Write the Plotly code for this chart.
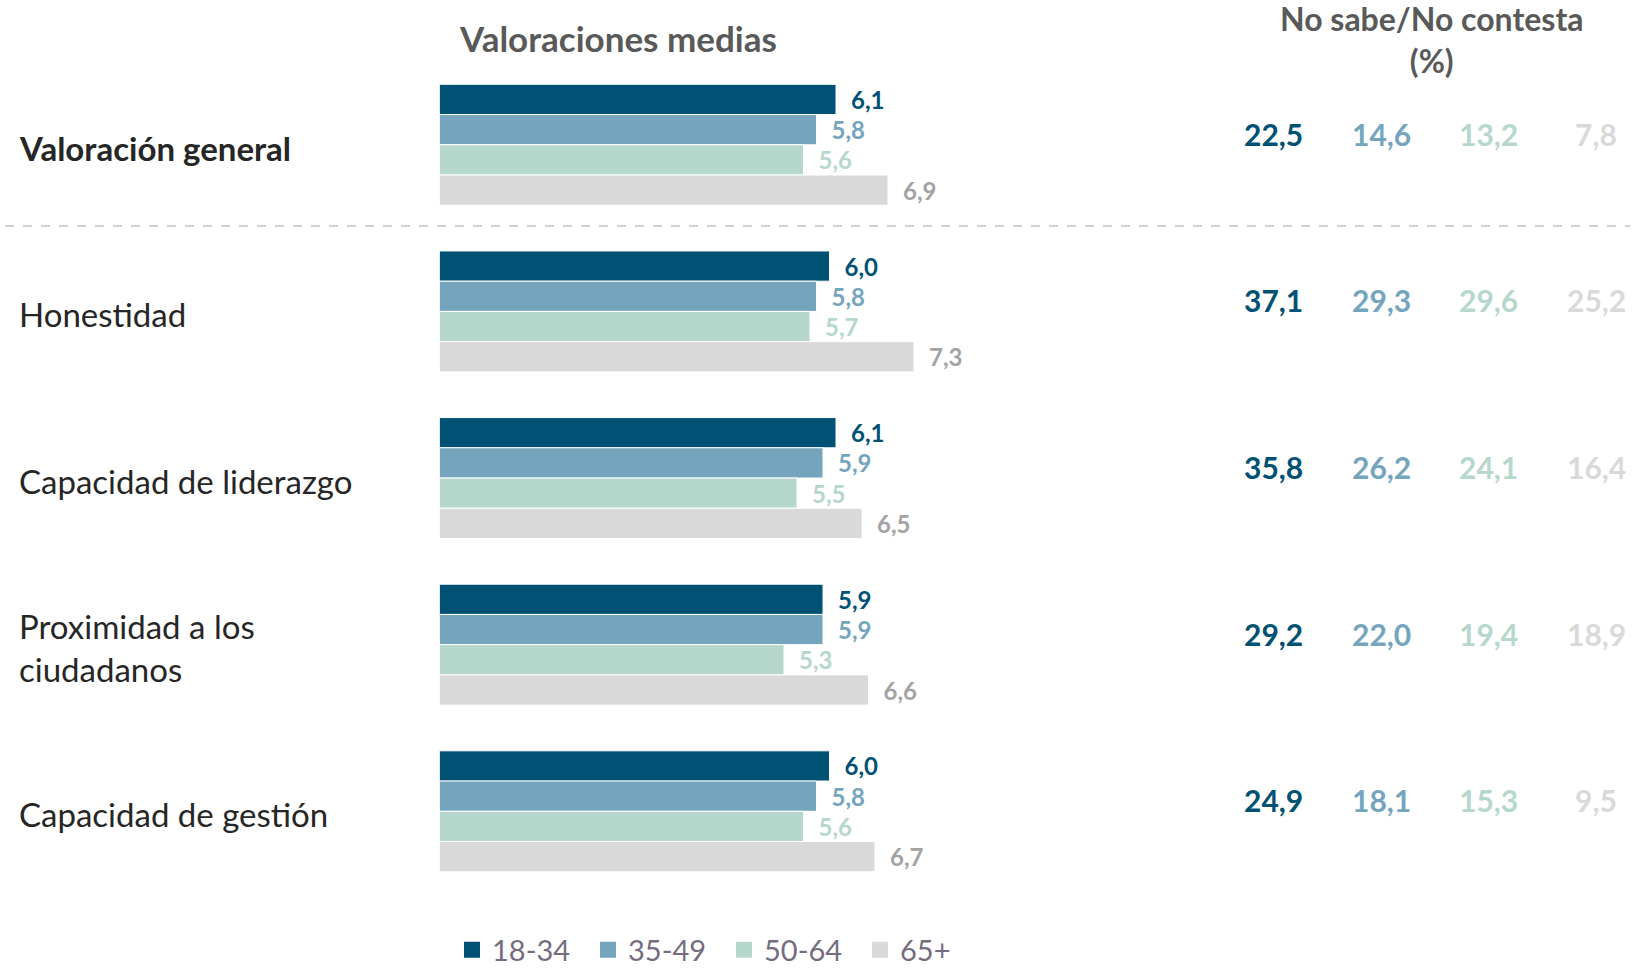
import plotly.graph_objects as go

categories = ["Valoración general", "Honestidad", "Capacidad de liderazgo",
              "Proximidad a los<br>ciudadanos", "Capacidad de gestión"]
age_groups = ["18-34", "35-49", "50-64", "65+"]
means_18_34 = [6.1, 6.0, 6.1, 5.9, 6.0]
means_35_49 = [5.8, 5.8, 5.9, 5.9, 5.8]
means_50_64 = [5.6, 5.7, 5.5, 5.3, 5.6]
means_65 = [6.9, 7.3, 6.5, 6.6, 6.7]
nsnc_18_34 = [22.5, 37.1, 35.8, 29.2, 24.9]
nsnc_35_49 = [14.6, 29.3, 26.2, 22.0, 18.1]
nsnc_50_64 = [13.2, 29.6, 24.1, 19.4, 15.3]
nsnc_65 = [7.8, 25.2, 16.4, 18.9, 9.5]

bar_colors = ["#005173", "#74A5BD", "#B6D7CC", "#D9D9D9"]
label_colors = ["#005173", "#74A5BD", "#B6D7CC", "#A3A3A3"]
nsnc_colors = ["#005173", "#74A5BD", "#B6D7CC", "#D9D9D9"]

W, H = 1633, 970
FONT = "Lato"

def px(x):
    return x / W

def py(y):
    return 1 - y / H

def fmt(v):
    return f"{v:.1f}".replace(".", ",")

fig = go.Figure()
series = [means_18_34, means_35_49, means_50_64, means_65]
for name, vals, col, lcol in zip(age_groups, series, bar_colors, label_colors):
    fig.add_trace(go.Bar(
        y=categories, x=vals, name=name, orientation="h",
        marker=dict(color=col, line=dict(color="white", width=1)),
        text=["\u2002" + fmt(v) for v in vals], textposition="outside",
        textfont=dict(color=lcol, size=24, family=FONT, weight="bold"),
        cliponaxis=False, hoverinfo="skip", showlegend=False,
    ))
# legend entries (square swatches)
for name, col in zip(age_groups, bar_colors):
    fig.add_trace(go.Scatter(
        x=[None], y=[None], mode="markers", name=name,
        marker=dict(symbol="square", size=17, color=col), hoverinfo="skip",
    ))

x0, x1 = 439.5, 1100
c_top, c_bot = 144.8, 811.3
half = (c_bot - c_top) / 4 / 2
ytop, ybot = c_top - half, c_bot + half
fig.update_layout(
    width=W, height=H, margin=dict(l=0, r=0, t=0, b=0, autoexpand=False),
    plot_bgcolor="white", paper_bgcolor="white",
    barmode="group", bargap=0.274, bargroupgap=0,
    font=dict(family=FONT),
    xaxis=dict(domain=[px(x0), px(x1)], range=[0, (x1 - x0) / 65.0],
               visible=False, fixedrange=True),
    yaxis=dict(domain=[py(ybot), py(ytop)], type="category",
               autorange="reversed", showticklabels=False, showgrid=False,
               zeroline=False, fixedrange=True),
    legend=dict(orientation="h", x=px(452), y=py(950), xanchor="left",
                yanchor="middle", font=dict(size=29, color="#766C80", family=FONT),
                itemwidth=30, entrywidth=91, entrywidthmode="pixels",
                traceorder="normal", bgcolor="rgba(0,0,0,0)"),
    showlegend=True,
)

# category labels
for i, c in enumerate(categories):
    fig.add_annotation(x=px(17), xref="paper", y=c, yref="y", text=c,
                       xanchor="left", yanchor="middle", showarrow=False, align="left",
                       yshift=-3,
                       font=dict(size=33, color="#262626", family=FONT,
                                 weight="bold" if i == 0 else "normal"))

# NS/NC values
col_x = [1273, 1381, 1488, 1596]
for xs, vals, col in zip(col_x, [nsnc_18_34, nsnc_35_49, nsnc_50_64, nsnc_65], nsnc_colors):
    for c, v in zip(categories, vals):
        fig.add_annotation(x=px(xs), xref="paper", y=c, yref="y", text=fmt(v),
                           xanchor="center", yanchor="middle", yshift=11, showarrow=False,
                           font=dict(size=30, color=col, family=FONT, weight="bold"))

# headers
fig.add_annotation(x=px(617.6), y=py(38.5), xref="paper", yref="paper",
                   text="Valoraciones medias", showarrow=False,
                   xanchor="center", yanchor="middle",
                   font=dict(size=35, color="#595959", family=FONT, weight="bold"))
fig.add_annotation(x=px(1432), y=py(40), xref="paper", yref="paper",
                   text="No sabe/No contesta<br>(%)", showarrow=False,
                   xanchor="center", yanchor="middle",
                   font=dict(size=32, color="#595959", family=FONT, weight="bold"))

# dashed separator
fig.add_shape(type="line", xref="paper", yref="paper",
              x0=px(5), x1=px(1630), y0=py(226), y1=py(226),
              line=dict(color="#A6A6A6", width=1.2, dash="dash"))

fig.write_html("out.html", config={"displayModeBar": False},
               post_script="document.body.style.margin='0';")
